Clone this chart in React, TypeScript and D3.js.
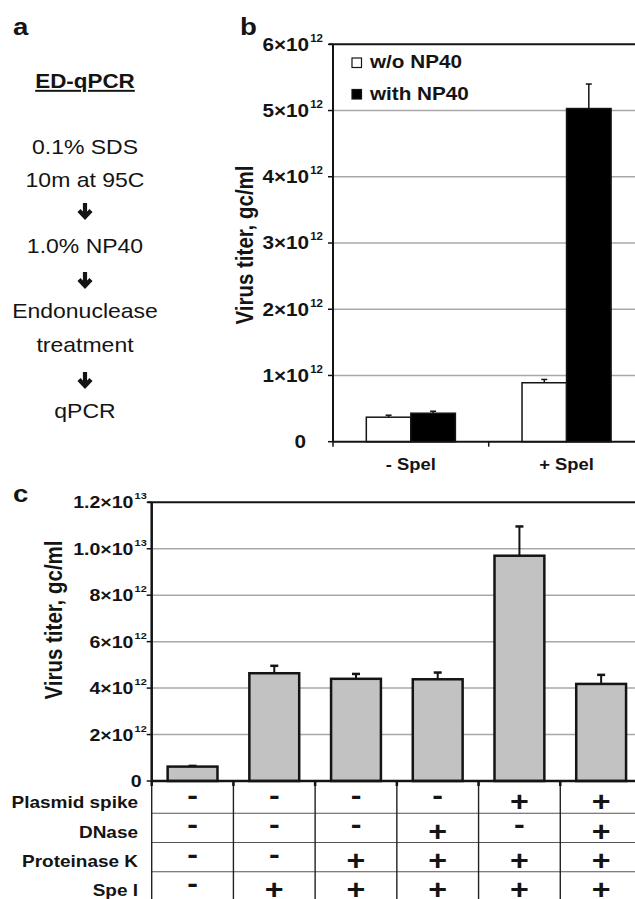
import React from 'react'
import * as d3 from 'd3'

// panel a: protocol
const protocolTitle = 'ED-qPCR'
const protocolSteps = [['0.1% SDS', '10m at 95C'], ['1.0% NP40'], ['Endonuclease', 'treatment'], ['qPCR']]

// panel b
const spelGroups = ['- Spel', '+ Spel']
const np40Series = ['w/o NP40', 'with NP40']
const titerNoNP40 = [0.37e12, 0.89e12]
const errNoNP40 = [0.03e12, 0.05e12]
const titerWithNP40 = [0.43e12, 5.03e12]
const errWithNP40 = [0.03e12, 0.37e12]
const ticksB = [0, 1e12, 2e12, 3e12, 4e12, 5e12, 6e12]

// panel c
const titerC = [0.62e12, 4.64e12, 4.4e12, 4.38e12, 9.7e12, 4.18e12]
const errC = [0.03e12, 0.32e12, 0.21e12, 0.29e12, 1.26e12, 0.39e12]
const ticksC = [0, 2e12, 4e12, 6e12, 8e12, 1e13, 1.2e13]
const tableRows = ['Plasmid spike', 'DNase', 'Proteinase K', 'Spe I']
const plasmidSpike = ['-', '-', '-', '-', '+', '+']
const dnase = ['-', '-', '-', '+', '-', '+']
const proteinaseK = ['-', '-', '+', '+', '+', '+']
const speI = ['-', '+', '+', '+', '+', '+']

const W = 635
const H = 899
const FONT = "'Liberation Sans', Arial, sans-serif"
const SX = 1.15 // the figure is a bit stretched sideways
const INK = '#141414'
const GRID = '#a8a8a8'

type TxtProps = {
  x: number
  y: number
  size: number
  bold?: boolean
  anchor?: string
  rotate?: number
  underline?: boolean
  children: React.ReactNode
}

function Txt({ x, y, size, bold, anchor = 'middle', rotate, underline, children }: TxtProps) {
  const t = `translate(${x},${y}) scale(${SX},1)` + (rotate ? ` rotate(${rotate})` : '')
  return (
    <text
      transform={t}
      fontSize={size}
      fontFamily={FONT}
      fontWeight={bold ? 'bold' : 'normal'}
      textAnchor={anchor}
      fill={INK}
      style={underline ? { textDecoration: 'underline' } : undefined}
    >
      {children}
    </text>
  )
}

function Arrow({ x, y }: { x: number; y: number }) {
  return (
    <path
      d={`M${x},${y} V${y + 13} M${x - 6},${y + 7.5} L${x},${y + 14} L${x + 6},${y + 7.5}`}
      fill="none"
      stroke={INK}
      strokeWidth={4.2}
    />
  )
}

function PanelA() {
  const cx = 85
  const baselines = [[154, 187], [253], [318, 352], [418]]
  const arrowTops = [203, 272, 372]
  return (
    <g>
      <Txt x={13} y={35} size={24} bold anchor="start">a</Txt>
      <Txt x={cx} y={88} size={19.5} bold underline>{protocolTitle}</Txt>
      {protocolSteps.map((lines, i) =>
        lines.map((s, j) => (
          <Txt key={`${i}-${j}`} x={cx} y={baselines[i][j]} size={20}>{s}</Txt>
        ))
      )}
      {arrowTops.map((y, i) => <Arrow key={i} x={cx} y={y} />)}
    </g>
  )
}

function PanelB() {
  const left = 333
  const yB = d3.scaleLinear().domain([0, 6e12]).range([441.7, 44.3])
  const xB = d3.scaleBand<string>().domain(spelGroups).range([left, 644.4]).paddingInner(0.428).paddingOuter(0.214)
  const xIn = d3.scaleBand<string>().domain(np40Series).range([0, xB.bandwidth()])
  const values = [titerNoNP40, titerWithNP40]
  const errs = [errNoNP40, errWithNP40]
  const fills = ['#ffffff', '#000000']
  const bounds = d3.range(spelGroups.length + 1).map((i) => left + i * xB.step())

  return (
    <g>
      <Txt x={240} y={35} size={24} bold anchor="start">b</Txt>
      {ticksB.slice(1, -1).map((t) => (
        <line key={t} x1={left} x2={W} y1={yB(t)} y2={yB(t)} stroke={GRID} strokeWidth={1.5} />
      ))}
      <line x1={left - 4} x2={W} y1={yB(6e12)} y2={yB(6e12)} stroke={INK} strokeWidth={2} />

      {spelGroups.map((g, gi) =>
        np40Series.map((s, si) => {
          const v = values[si][gi]
          const x0 = (xB(g) as number) + (xIn(s) as number)
          const cx = x0 + xIn.bandwidth() / 2
          return (
            <g key={g + s}>
              <line x1={cx} x2={cx} y1={yB(v)} y2={yB(v + errs[si][gi])} stroke={INK} strokeWidth={1.5} />
              <line x1={cx - 3} x2={cx + 3} y1={yB(v + errs[si][gi])} y2={yB(v + errs[si][gi])} stroke={INK} strokeWidth={1.5} />
              <rect x={x0} y={yB(v)} width={xIn.bandwidth()} height={yB(0) - yB(v)} fill={fills[si]} stroke={INK} strokeWidth={1.5} />
            </g>
          )
        })
      )}

      <line x1={left} x2={left} y1={yB(6e12)} y2={yB(0)} stroke={INK} strokeWidth={2} />
      <line x1={left} x2={W} y1={yB(0)} y2={yB(0)} stroke={INK} strokeWidth={2} />
      {ticksB.map((t) => (
        <line key={t} x1={left - 5} x2={left} y1={yB(t)} y2={yB(t)} stroke={INK} strokeWidth={1.5} />
      ))}
      {bounds.map((b) => (
        <line key={b} x1={b} x2={b} y1={yB(0)} y2={yB(0) + 5} stroke={INK} strokeWidth={1.5} />
      ))}
      {ticksB.map((t) =>
        t === 0 ? (
          <Txt key={t} x={306} y={yB(t) + 6.4} size={18} bold anchor="end">0</Txt>
        ) : (
          <Txt key={t} x={323} y={yB(t) + 6.4} size={18} bold anchor="end">
            {`${t / 1e12}×10`}
            <tspan fontSize={10} dy={-9} dx={1}>12</tspan>
          </Txt>
        )
      )}
      {spelGroups.map((g) => (
        <Txt key={g} x={(xB(g) as number) + xB.bandwidth() / 2} y={470} size={16} bold>{g}</Txt>
      ))}
      <Txt x={253} y={245} size={20.5} bold rotate={-90}>Virus titer, gc/ml</Txt>

      {np40Series.map((s, i) => (
        <g key={s}>
          <rect x={352} y={58 + i * 31.5} width={9.5} height={9.5} fill={fills[i]} stroke={INK} strokeWidth={1.2} />
          <Txt x={370} y={67.5 + i * 32} size={18} bold anchor="start">{s}</Txt>
        </g>
      ))}
    </g>
  )
}

function PanelC() {
  const left = 151.7
  const yC = d3.scaleLinear().domain([0, 1.2e13]).range([781, 502.3])
  const xC = d3.scaleBand<number>().domain(d3.range(titerC.length)).range([left, 642]).paddingInner(0.39).paddingOuter(0.195)
  const rowY = d3.scaleBand<string>().domain(tableRows).range([784, 901])
  const cells = [plasmidSpike, dnase, proteinaseK, speI]
  const bounds = d3.range(titerC.length + 1).map((i) => left + i * xC.step())
  const label = (t: number) => (t >= 1e13 ? [(t / 1e13).toFixed(1), '13'] : [String(t / 1e12), '12'])

  return (
    <g>
      <Txt x={13} y={502} size={24} bold anchor="start">c</Txt>
      {ticksC.slice(1, -1).map((t) => (
        <line key={t} x1={left} x2={W} y1={yC(t)} y2={yC(t)} stroke={GRID} strokeWidth={1.5} />
      ))}
      <line x1={left - 4} x2={W} y1={yC(1.2e13)} y2={yC(1.2e13)} stroke={INK} strokeWidth={2} />

      {titerC.map((v, i) => {
        const x0 = xC(i) as number
        const cx = x0 + xC.bandwidth() / 2
        const top = yC(v + errC[i])
        return (
          <g key={i}>
            <line x1={cx} x2={cx} y1={yC(v)} y2={top} stroke={INK} strokeWidth={2} />
            <line x1={cx - 4} x2={cx + 4} y1={top} y2={top} stroke={INK} strokeWidth={2.5} />
            <rect x={x0} y={yC(v)} width={xC.bandwidth()} height={yC(0) - yC(v)} fill="#c2c2c2" stroke={INK} strokeWidth={2.5} />
          </g>
        )
      })}

      <line x1={left} x2={left} y1={yC(1.2e13)} y2={yC(0)} stroke={INK} strokeWidth={2.5} />
      {ticksC.map((t) => (
        <line key={t} x1={left - 5} x2={left} y1={yC(t)} y2={yC(t)} stroke={INK} strokeWidth={1.5} />
      ))}
      {ticksC.map((t) => {
        if (t === 0) return <Txt key={t} x={141.7} y={yC(t) + 6} size={17} bold anchor="end">0</Txt>
        const [m, e] = label(t)
        return (
          <Txt key={t} x={146.7} y={yC(t) + 6} size={17} bold anchor="end">
            {`${m}×10`}
            <tspan fontSize={9.5} dy={-9} dx={1}>{e}</tspan>
          </Txt>
        )
      })}
      <Txt x={62} y={620} size={20.5} bold rotate={-90}>Virus titer, gc/ml</Txt>

      {/* condition table */}
      {tableRows.slice(1).map((r) => (
        <line key={r} x1={left} x2={W} y1={rowY(r)} y2={rowY(r)} stroke="#555" strokeWidth={1.2} />
      ))}
      {bounds.map((b) => (
        <g key={b}>
          <line x1={b} x2={b} y1={yC(0)} y2={H} stroke="#222" strokeWidth={1.4} />
          <line x1={b} x2={b} y1={yC(0)} y2={yC(0) + 5} stroke={INK} strokeWidth={2.5} />
        </g>
      ))}
      <line x1={left} x2={W} y1={yC(0)} y2={yC(0)} stroke={INK} strokeWidth={2.5} />
      {tableRows.map((r, ri) => {
        const mid = (rowY(r) as number) + rowY.bandwidth() / 2
        return (
          <g key={r}>
            <Txt x={138} y={mid + 9.8} size={16.5} bold anchor="end">{r}</Txt>
            {cells[ri].map((s, ci) => (
              <Txt key={ci} x={(xC(ci) as number) + xC.bandwidth() / 2} y={mid + (s === '+' ? 12.8 : 6.5)} size={28} bold>{s}</Txt>
            ))}
          </g>
        )
      })}
    </g>
  )
}

export default function App() {
  return (
    <svg
      width={W}
      height={H}
      viewBox={`0 0 ${W} ${H}`}
      style={{ position: 'absolute', left: 0, top: 0, background: '#fff' }}
    >
      <rect width={W} height={H} fill="#fff" />
      <PanelA />
      <PanelB />
      <PanelC />
    </svg>
  )
}
